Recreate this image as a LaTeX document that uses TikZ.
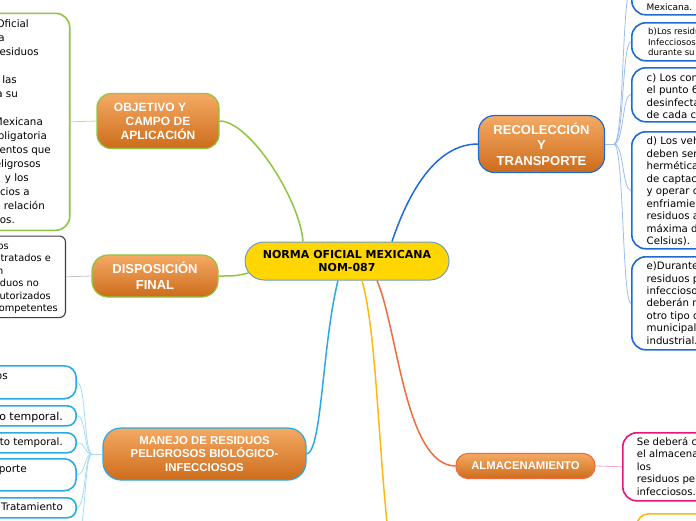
\documentclass[tikz,border=0pt]{standalone}
\usepackage{fontspec}
\setmainfont{DejaVu Sans}
\newfontfamily\branchfont{Liberation Sans}
\definecolor{cgreen}{HTML}{8DC63F}
\definecolor{lgreen}{HTML}{BEE095}
\definecolor{cblue}{HTML}{29ABE2}
\definecolor{lblue}{HTML}{A3DBF4}
\definecolor{dblue}{HTML}{1E6AD6}
\definecolor{ldblue}{HTML}{9DBDEE}
\definecolor{cred}{HTML}{F26B3A}
\definecolor{cpink}{HTML}{E8157A}
\definecolor{lpink}{HTML}{F7A6CC}
\definecolor{cyel}{HTML}{FDB813}
\definecolor{cgray}{HTML}{404040}
\definecolor{lgray}{HTML}{C4C4C4}
\definecolor{otop}{HTML}{F4AA64}
\definecolor{obot}{HTML}{CD6C1B}
\definecolor{cfill}{HTML}{FFD600}
\definecolor{cborder}{HTML}{6E9CC8}
\begin{document}
\begin{tikzpicture}[x=1pt,y=-1pt,
  branch/.style={rectangle, top color=otop, bottom color=obot, line width=1.2pt, text=white, align=center, inner sep=0pt},
  leafbox/.style={rectangle, fill=white, line width=1.6pt, inner sep=0pt},
  ltxt/.style={inner sep=0pt},
  mainline/.style={line width=1.5pt},
  thinline/.style={line width=0.8pt}]
\useasboundingbox (0,0) rectangle (696,520);

% ---------- centre ----------
\node[rectangle, rounded corners=19pt, fill=cfill, draw=cborder, line width=1pt,
  minimum width=204pt, minimum height=38pt, inner sep=0pt, align=center,
  font=\bfseries\fontsize{11}{12.5}\selectfont] (cen) at (347,261)
  {NORMA OFICIAL MEXICANA\\NOM-087};

% ---------- branches ----------
\node[branch, draw=cgreen, rounded corners=14pt, minimum width=122pt, minimum height=55pt,
  font=\branchfont\bfseries\fontsize{12}{14}\selectfont] (obj) at (158,121)
  {OBJETIVO Y\hspace*{16pt}\\CAMPO DE\\APLICACIÓN};
\node[branch, draw=cgreen, rounded corners=16pt, minimum width=126pt, minimum height=42pt,
  font=\branchfont\bfseries\fontsize{13}{15.7}\selectfont] (disp) at (155,276)
  {DISPOSICIÓN\\FINAL};
\node[branch, draw=cblue, rounded corners=18pt, minimum width=203pt, minimum height=52pt,
  font=\branchfont\bfseries\fontsize{11.4}{13.5}\selectfont] (man) at (204.5,454)
  {MANEJO DE RESIDUOS\\PELIGROSOS BIOLÓGICO-\\INFECCIOSOS};
\node[branch, draw=dblue, rounded corners=16pt, minimum width=126pt, minimum height=57pt,
  font=\branchfont\bfseries\fontsize{13}{15.5}\selectfont] (rec) at (541.5,144)
  {RECOLECCIÓN\\Y\\TRANSPORTE};
\node[branch, draw=cred, rounded corners=12pt, minimum width=139pt, minimum height=25pt,
  font=\branchfont\bfseries\fontsize{11.3}{13}\selectfont] (alm) at (525.5,466)
  {ALMACENAMIENTO};

% ---------- leaf boxes ----------
\node[leafbox, draw=cgreen, rounded corners=14pt, minimum width=220pt, minimum height=217pt, anchor=north east] (objleaf) at (70.5,12.5) {};
\node[leafbox, draw=cgray, line width=1.1pt, rounded corners=6pt, minimum width=216pt, minimum height=81.5pt, anchor=north east] (dleaf) at (66,235.5) {};

\node[leafbox, draw=cblue, rounded corners=12pt, minimum width=177pt, minimum height=33pt, anchor=north east] (ml1) at (77,365) {};
\node[leafbox, draw=cblue, rounded corners=9pt, minimum width=177pt, minimum height=20pt, anchor=north east] (ml2) at (77,405) {};
\node[leafbox, draw=cblue, rounded corners=9pt, minimum width=177pt, minimum height=20pt, anchor=north east] (ml3) at (77,432) {};
\node[leafbox, draw=cblue, rounded corners=12pt, minimum width=177pt, minimum height=32pt, anchor=north east] (ml4) at (77,458) {};
\node[leafbox, draw=cblue, rounded corners=9pt, minimum width=177pt, minimum height=20pt, anchor=north east] (ml5) at (77,497) {};
\node[leafbox, draw=cblue, rounded corners=9pt, minimum width=177pt, minimum height=20pt, anchor=north east] (ml6) at (77,525) {};

\node[leafbox, draw=dblue, rounded corners=14pt, minimum width=120pt, minimum height=54pt, anchor=north west] (ra) at (631,-40) {};
\node[leafbox, draw=dblue, rounded corners=14pt, minimum width=120pt, minimum height=38pt, anchor=north west] (rb) at (631,22) {};
\node[leafbox, draw=dblue, rounded corners=14pt, minimum width=120pt, minimum height=54pt, anchor=north west] (rc) at (631,67) {};
\node[leafbox, draw=dblue, rounded corners=14pt, minimum width=120pt, minimum height=117pt, anchor=north west] (rd) at (631,131) {};
\node[leafbox, draw=dblue, rounded corners=14pt, minimum width=120pt, minimum height=93pt, anchor=north west] (re) at (631,256) {};

\node[leafbox, draw=cpink, rounded corners=14pt, minimum width=120pt, minimum height=68pt, anchor=north west] (aleaf) at (622,432) {};
\node[leafbox, draw=cyel, rounded corners=12pt, minimum width=120pt, minimum height=40pt, anchor=north west] (yleaf) at (636,513) {};

% ---------- leaf texts ----------
\foreach \yy/\xx/\tx [count=\i] in {24/29/Oficial, 38/5/la, 52/39/residuos, 80/17/las, 94/18/para su,
  122/43/Mexicana, 136/47/obligatoria, 150/51/establecimientos que, 164/41/peligrosos,
  178/29/y los, 192/30/servicios a, 206/45/relación, 220/15/mismos.}
  \node[ltxt, font=\fontsize{10.3}{12}\selectfont, anchor=base east] (oa\i) at (\xx,\yy+3.8) {\tx};

\foreach \yy/\xx/\tx [count=\i] in {245.7/9/los, 258.2/51/tratados e, 270.7/3.5/en,
  283.2/39/residuos no, 295.7/51/autorizados, 308.2/58/competentes}
  \node[ltxt, font=\fontsize{9.8}{12}\selectfont, anchor=base east] (da\i) at (\xx,\yy+3.6) {\tx};

\node[ltxt, font=\fontsize{10.5}{12}\selectfont, anchor=base east] (mt1) at (8,376+3.8) {residuos};
\node[ltxt, font=\fontsize{11}{12}\selectfont, anchor=base east] (mt2) at (63,416+4) {Envasado temporal.};
\node[ltxt, font=\fontsize{10.2}{12}\selectfont, anchor=base east] (mt3) at (63,442+3.7) {Almacenamiento temporal.};
\node[ltxt, font=\fontsize{10.5}{12}\selectfont, anchor=base east] (mt4) at (27,469+3.8) {transporte};
\node[ltxt, font=\fontsize{10.3}{12}\selectfont, anchor=base east] (mt5) at (63,507+3.7) {Tratamiento};

\node[ltxt, font=\fontsize{9}{11}\selectfont, anchor=base west] (ta1) at (646.5,6.7+3.3) {Mexicana.};
\foreach \yy/\tx [count=\i] in {31.7/b)Los residuos, 42.7/Infecciosos no, 52.7/durante su}
  \node[ltxt, font=\fontsize{8.6}{10}\selectfont, anchor=base west] (tb\i) at (648,\yy+3.1) {\tx};
\foreach \yy/\tx [count=\i] in {77.3/c) Los contenedores, 90/el punto 6.2.1, 102.7/desinfectados y, 115/de cada ciclo}
  \node[ltxt, font=\fontsize{10.2}{12}\selectfont, anchor=base west] (tc\i) at (646.5,\yy+3.7) {\tx};
\foreach \yy/\tx [count=\i] in {141/d) Los vehículos, 153.5/deben ser de, 166/{hermética, contar}, 178.5/de captación de,
  191/y operar con, 203.5/enfriamiento, 216/residuos a una, 228.5/máxima de 4°C, 241/Celsius).}
  \node[ltxt, font=\fontsize{10.2}{12}\selectfont, anchor=base west] (td\i) at (646.5,\yy+3.7) {\tx};
\foreach \yy/\tx [count=\i] in {266/e)Durante su, 278.4/residuos peligrosos, 290.8/infecciosos sin, 303.2/deberán mezclarse,
  315.6/otro tipo de, 328/municipales o, 340.4/industrial.}
  \node[ltxt, font=\fontsize{10.2}{12}\selectfont, anchor=base west] (te\i) at (646.5,\yy+3.7) {\tx};
\foreach \yy/\tx [count=\i] in {441.5/Se deberá contar, 454/el almacenamiento, 466.5/los, 479/residuos peligrosos, 491.5/infecciosos.}
  \node[ltxt, font=\fontsize{10.1}{12}\selectfont, anchor=base west] (tl\i) at (636.7,\yy+3.7) {\tx};

% ---------- main connectors ----------
\draw[mainline, cgreen] ([xshift=-44pt]cen.north) .. controls (300,200) and (250,121) .. (obj.east);
\draw[mainline, cgreen] ([shift={(4pt,-12pt)}]cen.west) .. controls (235,276) .. (disp.east);
\draw[mainline, dblue] ([xshift=45pt]cen.north) .. controls (402,212) and (428,144) .. (rec.west);
\draw[mainline, cblue] ([xshift=-9pt]cen.south) .. controls (322,345) and (322,452) .. (man.east);
\draw[mainline, cred] ([xshift=30pt]cen.south) .. controls (398,330) and (405,465) .. (alm.west);
\coordinate (yend) at (388,532);
\draw[mainline, cyel] ([xshift=15pt]cen.south) .. controls (376,330) and (378,440) .. (yend);

% ---------- leaf connectors ----------
\draw[thinline, lgreen] (obj.west) -- (objleaf.east);
\draw[thinline, lgray] (disp.west) -- (dleaf.east);
\draw[thinline, lpink] (alm.east) -- (aleaf.west);

\coordinate (mj) at (92,454);
\draw[thinline, lblue] (man.west) -- (mj);
\foreach \b/\yy in {ml1/381.5, ml2/415, ml3/442, ml4/474, ml5/507, ml6/535}
  \draw[thinline, lblue] (mj) .. controls (84,454) and (86,\yy) .. (\b.east);

\coordinate (rj) at (614,144);
\draw[thinline, ldblue] (rec.east) -- (rj);
\foreach \b/\yy in {ra/-13, rb/41, rc/94, rd/189.5, re/302.5}
  \draw[thinline, ldblue] (rj) .. controls (624,144) and (622,\yy) .. (\b.west);
\end{tikzpicture}
\end{document}
